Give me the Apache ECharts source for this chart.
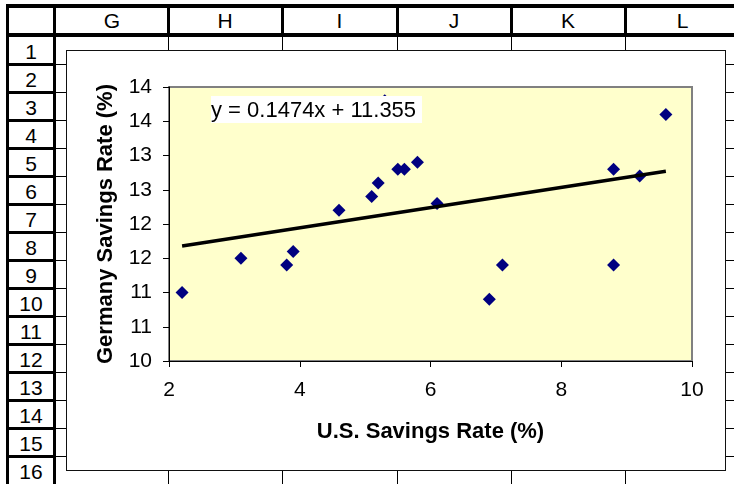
<!DOCTYPE html>
<html><head><meta charset="utf-8">
<script src="https://cdn.jsdelivr.net/npm/echarts@6/dist/echarts.min.js"></script>
<style>
html,body{margin:0;padding:0;background:#fff;}
#sheet{position:relative;width:734px;height:484px;overflow:hidden;font-family:'Liberation Sans',Arial,sans-serif;}
.b{position:absolute;background:#000;}
.t{position:absolute;text-align:center;font-size:21px;color:#000;}
#chartBox{position:absolute;left:66px;top:50px;width:660px;height:421px;box-sizing:border-box;border:1px solid #111;background:#fff;}
#chart{width:658px;height:419px;}
</style></head><body>
<div id="sheet"></div>
<script>
// ---- data ----
const columnLetters = ['G', 'H', 'I', 'J', 'K', 'L'];
const rowNumbers = ['1','2','3','4','5','6','7','8','9','10','11','12','13','14','15','16'];
const usRate      = [2.2, 3.1, 3.8, 3.9, 4.6, 5.1, 5.2, 5.3, 5.5, 5.6, 5.8, 6.1, 6.9, 7.1, 8.8, 8.8, 9.2, 9.6];
const germanyRate = [11.0, 11.5, 11.4, 11.6, 12.2, 12.4, 12.6, 13.8, 12.8, 12.8, 12.9, 12.3, 10.9, 11.4, 12.8, 11.4, 12.7, 13.6];
const trendX = [2.2, 9.6];
const trendY = [11.68, 12.77];
const xTickValues = [2, 4, 6, 8, 10];
const xTickLabels = ['2', '4', '6', '8', '10'];
const yTickValues = [10, 10.5, 11, 11.5, 12, 12.5, 13, 13.5, 14];
const yTickLabels = ['10', '11', '11', '12', '12', '13', '13', '14', '14'];
const equationText = 'y = 0.1474x + 11.355';
const xTitle = 'U.S. Savings Rate (%)';
const yTitle = 'Germany Savings Rate (%)';

// ---- spreadsheet frame ----
const sheet = document.getElementById('sheet');
function box(x, y, w, h) {
  const d = document.createElement('div');
  d.className = 'b';
  d.style.left = x + 'px'; d.style.top = y + 'px';
  d.style.width = w + 'px'; d.style.height = h + 'px';
  sheet.appendChild(d);
}
function txt(s, x, y, w, h) {
  const d = document.createElement('div');
  d.className = 't';
  d.textContent = s;
  d.style.left = x + 'px'; d.style.top = y + 'px';
  d.style.width = w + 'px'; d.style.height = h + 'px';
  d.style.lineHeight = h + 'px';
  sheet.appendChild(d);
}
const colEdges = [56, 168, 282, 397, 511, 625, 740];
// cell grid lines
for (let i = 1; i < colEdges.length - 1; i++) box(colEdges[i], 37, 1, 447);
for (let k = 1; k < 16; k++) box(56, 36 + 28 * k, 678, 1);
// header borders
box(6, 4, 728, 4);
box(6, 4, 3, 480);
box(6, 33, 728, 4);
box(53, 4, 3, 480);
for (let i = 1; i < colEdges.length - 1; i++) box(colEdges[i] - 1, 4, 3, 33);
for (let k = 1; k < 16; k++) box(6, 35 + 28 * k, 50, 3);
columnLetters.forEach((c, i) => txt(c, colEdges[i], 8, colEdges[i + 1] - colEdges[i], 25));
rowNumbers.forEach((r, k) => txt(r, 9, 38 + 28 * k, 44, 27));

const cb = document.createElement('div');
cb.id = 'chartBox';
cb.innerHTML = '<div id="chart"></div>';
sheet.appendChild(cb);

// ---- chart ----
const FONT = "'Liberation Sans', Arial, sans-serif";
function lookup(vals, labels, v) {
  for (let i = 0; i < vals.length; i++) if (Math.abs(vals[i] - v) < 1e-6) return labels[i];
  return '';
}
const chart = echarts.init(document.getElementById('chart'), null, {renderer: 'canvas'});
chart.setOption({
  animation: false,
  grid: {left: 102, top: 36, width: 523, height: 274, show: true,
         backgroundColor: '#FFFFCC', borderColor: '#808080', borderWidth: 2},
  xAxis: {
    type: 'value', min: 2, max: 10, interval: 2,
    axisLine: {show: true, onZero: false, lineStyle: {color: '#000', width: 1}},
    axisTick: {show: true, length: 6, lineStyle: {color: '#000'}},
    splitLine: {show: false},
    axisLabel: {margin: 19, color: '#000', fontSize: 21, fontFamily: FONT,
                formatter: v => lookup(xTickValues, xTickLabels, v)},
    name: xTitle, nameLocation: 'middle', nameGap: 60,
    nameTextStyle: {color: '#000', fontWeight: 'bold', fontSize: 22, fontFamily: FONT}
  },
  yAxis: {
    type: 'value', min: 10, max: 14, interval: 0.5,
    axisLine: {show: true, onZero: false, lineStyle: {color: '#000', width: 1}},
    axisTick: {show: true, length: 6, lineStyle: {color: '#000'}},
    splitLine: {show: false},
    axisLabel: {margin: 17, color: '#000', fontSize: 21, fontFamily: FONT,
                formatter: v => lookup(yTickValues, yTickLabels, v)},
    name: yTitle, nameLocation: 'middle', nameRotate: 90, nameGap: 52,
    nameTextStyle: {color: '#000', fontWeight: 'bold', fontSize: 22, fontFamily: FONT}
  },
  series: [
    {type: 'scatter', data: usRate.map((x, i) => [x, germanyRate[i]]),
     symbol: 'diamond', symbolSize: 13, itemStyle: {color: '#000080', opacity: 1}, z: 2},
    {type: 'line', data: trendX.map((x, i) => [x, trendY[i]]), symbol: 'none',
     lineStyle: {color: '#000', width: 3.5}, z: 3}
  ],
  graphic: [
    {type: 'rect', left: 144, top: 45, shape: {width: 211, height: 27}, style: {fill: '#fff'}, z: 10},
    {type: 'text', left: 144, top: 49, z: 11,
     style: {text: equationText, font: "22px 'Liberation Sans', Arial, sans-serif", fill: '#000'}}
  ]
});
</script>
</body></html>
